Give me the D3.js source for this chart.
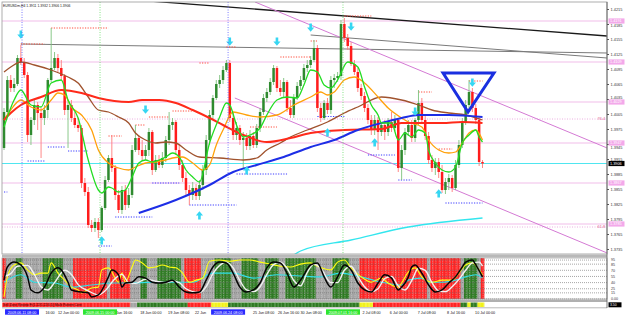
<!DOCTYPE html>
<html><head><meta charset="utf-8">
<script src="https://cdn.jsdelivr.net/npm/d3@7"></script>
<style>body{margin:0;background:#fff}svg{display:block}text{font-family:"Liberation Sans",Arial,sans-serif}</style>
</head><body>
<svg id="c" width="625" height="316"></svg>
<script>
// ---------------- DATA ----------------
const symbolTitle = "EURUSDm,H4  1.3911 1.3932 1.3906 1.3906";
const firstOpen = 1.3937;
const closes = [1.4009,1.4073,1.4057,1.4065,1.4117,1.4107,1.4083,1.3963,1.3993,1.4023,
1.4007,1.3997,1.4013,1.4073,1.4097,1.4117,1.4097,1.4081,1.4013,1.4023,
1.3997,1.3983,1.3977,1.3867,1.3849,1.3783,1.3777,1.3789,1.3773,1.3817,
1.3873,1.3917,1.3897,1.3843,1.3813,1.3853,1.3823,1.3843,1.3933,1.3957,
1.3933,1.3921,1.3933,1.3969,1.3893,1.3913,1.3903,1.3917,1.3953,1.3983,
1.3989,1.3933,1.3903,1.3877,1.3853,1.3843,1.3857,1.3841,1.3863,1.3893,
1.3953,1.4003,1.4037,1.4065,1.4073,1.4093,1.4107,1.3997,1.3963,1.3977,
1.3953,1.3957,1.3941,1.3961,1.3943,1.3977,1.4009,1.4037,1.4049,1.4069,
1.4097,1.4057,1.4049,1.4069,1.4017,1.4003,1.4037,1.4061,1.4073,1.4097,
1.4103,1.4113,1.4137,1.4017,1.3997,1.4027,1.4013,1.4073,1.4077,1.4081,
1.4185,1.4157,1.4141,1.4105,1.4089,1.4057,1.4041,1.4017,1.3993,1.3973,
1.3993,1.3969,1.3983,1.3969,1.3989,1.3977,1.3993,1.3897,1.3933,1.3969,
1.3983,1.3957,1.3993,1.4027,1.3993,1.3961,1.3913,1.3897,1.3909,1.3889,
1.3853,1.3869,1.3877,1.3857,1.3903,1.3943,1.3989,1.4023,1.4049,1.4017,
1.3993,1.3909,1.3906];
const highs = [1.4017,1.4081,1.4083,1.4077,1.4123,1.4143,1.4117,1.4089,1.3999,1.4033,
1.4029,1.4017,1.4023,1.4077,1.4177,1.4129,1.4125,1.4113,1.4085,1.4033,
1.4033,1.4009,1.3997,1.3983,1.3877,1.3859,1.3793,1.3797,1.3797,1.3821,
1.3881,1.3923,1.3963,1.3903,1.3853,1.3861,1.3863,1.3857,1.3943,1.3983,
1.3963,1.3953,1.3943,1.3977,1.3973,1.3923,1.3923,1.3929,1.3961,1.4009,
1.3997,1.3993,1.3943,1.3913,1.3889,1.3863,1.3869,1.3865,1.3873,1.3903,
1.3963,1.4013,1.4043,1.4073,1.4083,1.4101,1.4113,1.4113,1.4009,1.3989,
1.3983,1.3969,1.3967,1.3973,1.3969,1.3985,1.4017,1.4045,1.4057,1.4077,
1.4103,1.4101,1.4073,1.4077,1.4073,1.4033,1.4045,1.4069,1.4081,1.4105,
1.4113,1.4121,1.4153,1.4143,1.4027,1.4033,1.4037,1.4081,1.4085,1.4089,
1.4193,1.4197,1.4165,1.4149,1.4113,1.4097,1.4065,1.4049,1.4025,1.4003,
1.4003,1.3999,1.3989,1.3993,1.3997,1.4009,1.4003,1.3997,1.3943,1.3977,
1.3993,1.3993,1.3997,1.4053,1.4037,1.4001,1.3969,1.3923,1.3917,1.3917,
1.3903,1.3877,1.3885,1.3883,1.3913,1.3953,1.3997,1.4033,1.4073,1.4057,
1.4025,1.4001,1.3913];
const lows = [1.3933,1.4005,1.4049,1.4049,1.4061,1.4103,1.4077,1.3949,1.3943,1.3983,
1.3973,1.3917,1.3983,1.3997,1.4069,1.4093,1.4089,1.4073,1.4003,1.3937,
1.3989,1.3977,1.3969,1.3857,1.3841,1.3777,1.3769,1.3769,1.3757,1.3769,
1.3813,1.3869,1.3889,1.3833,1.3807,1.3805,1.3813,1.3817,1.3837,1.3929,
1.3923,1.3913,1.3913,1.3921,1.3883,1.3889,1.3897,1.3897,1.3909,1.3943,
1.3973,1.3923,1.3893,1.3869,1.3843,1.3823,1.3833,1.3833,1.3833,1.3853,
1.3883,1.3943,1.3993,1.4033,1.4057,1.4065,1.4089,1.3989,1.3953,1.3953,
1.3943,1.3897,1.3933,1.3933,1.3937,1.3937,1.3969,1.4003,1.4029,1.4043,
1.4063,1.4049,1.4041,1.4037,1.4009,1.3997,1.3997,1.4033,1.4053,1.4069,
1.4089,1.4097,1.4109,1.4009,1.3989,1.3993,1.4005,1.4005,1.4057,1.4069,
1.4073,1.4149,1.4133,1.4101,1.4083,1.4049,1.4033,1.4009,1.3985,1.3963,
1.3963,1.3933,1.3961,1.3953,1.3961,1.3969,1.3971,1.3889,1.3873,1.3923,
1.3961,1.3949,1.3949,1.3983,1.3985,1.3953,1.3905,1.3889,1.3883,1.3877,
1.3847,1.3845,1.3853,1.3849,1.3853,1.3897,1.3937,1.3983,1.4013,1.4009,
1.3985,1.3901,1.3897];

// moving averages as [bar index, price]
const greenMA = [[0,1.3979],[3,1.4033],[5,1.4053],[8,1.4023],[11,1.4019],[14,1.4067],[17,1.4073],[19,1.4033],[22,1.3997],[25,1.3913],[28,1.3853],[29,1.3847],[31,1.3859],[32,1.3857],[34,1.3849],[36,1.3853],[38,1.3879],[40,1.3907],[42,1.3913],[44,1.3909],[46,1.3913],[48,1.3919],[50,1.3927],[52,1.3919],[54,1.3893],[56,1.3879],[58,1.3869],[61,1.3947],[64,1.3999],[66,1.4027],[67,1.4023],[69,1.3983],[71,1.3959],[73,1.3963],[76,1.3977],[78,1.4003],[81,1.4033],[84,1.4039],[87,1.4037],[89,1.4063],[91,1.4093],[93,1.4089],[95,1.4063],[97,1.4057],[99,1.4073],[102,1.4109],[105,1.4099],[107,1.4059],[109,1.4023],[111,1.4003],[112,1.3987],[115,1.3987],[117,1.3953],[119,1.3967],[121,1.3959],[123,1.3973],[125,1.3967],[126,1.3933],[128,1.3907],[130,1.3893],[132,1.3889],[134,1.3899],[136,1.3947],[138,1.3963],[140,1.3973],[141,1.3959],[142,1.3949]];
const orangeMA = [[0,1.3993],[2,1.4013],[5,1.4033],[8,1.4019],[11,1.4013],[14,1.4033],[16,1.4047],[18,1.4043],[20,1.4019],[23,1.4003],[26,1.3973],[28,1.3933],[31,1.3907],[34,1.3897],[37,1.3893],[39,1.3899],[42,1.3907],[45,1.3909],[48,1.3913],[50,1.3917],[53,1.3919],[56,1.3907],[59,1.3893],[61,1.3903],[63,1.3943],[65,1.3973],[68,1.4009],[72,1.4003],[76,1.3999],[81,1.4003],[86,1.4023],[91,1.4039],[94,1.4049],[96,1.4043],[98,1.4049],[101,1.4073],[104,1.4079],[107,1.4067],[111,1.4039],[114,1.4017],[118,1.3997],[120,1.3989],[124,1.3979],[126,1.3953],[129,1.3933],[132,1.3927],[134,1.3929],[136,1.3947],[138,1.3967],[140,1.3973],[142,1.3953]];
const brownMA = [[0,1.4089],[2,1.4099],[5,1.4109],[9,1.4103],[14,1.4093],[19,1.4079],[22,1.4067],[25,1.4039],[28,1.4013],[31,1.4009],[34,1.3999],[37,1.3987],[39,1.3967],[42,1.3953],[45,1.3947],[48,1.3949],[51,1.3947],[54,1.3933],[58,1.3919],[64,1.3917],[71,1.3913],[75,1.3917],[78,1.3933],[82,1.3947],[85,1.3959],[90,1.3973],[96,1.3989],[101,1.4007],[105,1.4019],[112,1.4039],[118,1.4033],[123,1.4023],[127,1.4013],[132,1.4007],[137,1.4003],[142,1.3993]];
const redMA = [[0,1.3993],[2,1.4007],[5,1.4023],[11,1.4039],[17,1.4053],[23,1.4047],[28,1.4037],[37,1.4029],[41,1.4033],[46,1.4033],[51,1.4027],[56,1.4013],[61,1.3997],[65,1.3983],[71,1.3963],[78,1.3949],[85,1.3957],[91,1.3967],[101,1.3973],[112,1.3975],[118,1.3987],[124,1.3987],[130,1.3987],[136,1.3989],[142,1.3987]];
const blueMA = [[40,1.3807],[51,1.3833],[61,1.3863],[68,1.3889],[75,1.3903],[83,1.3919],[91,1.3939],[98,1.3953],[105,1.3973],[112,1.3987],[118,1.3997],[123,1.4003],[132,1.4003],[142,1.3999]];
const cyanMA = [[86,1.3723],[88,1.3731],[103,1.3753],[120,1.3779],[142,1.3797]];

// trend lines [bar index, price]
const blackTrend = [[43,1.4231],[179,1.4161]];
const grayTrendA = [[91,1.4163],[179,1.4117]];
const grayTrendB = [[5,1.4145],[179,1.4127]];
const channelUpper = [[74.5,1.4229],[179,1.3937]];
const channelLower = [[68.5,1.4037],[179,1.3727]];
const triangle = [[130.3,1.4087],[145.4,1.4087],[137.7,1.4009]];

// horizontal levels
const pinkLevels = [1.4191,1.4109,1.4029,1.3947,1.3867,1.3785];
const fiboPrices = [1.3995,1.3779];
const fiboLabels = ["76.4","61.8"];
const bidPrice = 1.3906;
const priceTicks = [1.4215,1.4185,1.4155,1.4125,1.4095,1.4065,1.4035,1.4005,1.3975,1.3945,1.3915,1.3885,1.3855,1.3825,1.3795,1.3765,1.3735];

// fractal levels [start idx, end idx, price]
const fractalHighs = [[5,12,1.4145],[14,31,1.4177],[31,35,1.3961],[39,42,1.3983],[43,49,1.3999],[50,56,1.4011],[58,61,1.4107],[66,69,1.4139],[73,81,1.3979],[82,91,1.4119],[91,93,1.4151],[101,109,1.4201],[123,127,1.4049],[129,133,1.3935],[138,142,1.4071]];
const fractalLows = [[0,1,1.3849],[7,12,1.3911],[13,18,1.3939],[19,25,1.3931],[28,32,1.3741],[33,44,1.3799],[44,52,1.3867],[55,69,1.3823],[69,84,1.3885],[93,101,1.4000],[108,116,1.3923],[117,121,1.3873],[131,142,1.3827]];
const arrowsDown = [[5,1.4163],[42,1.4013],[67,1.4149],[81,1.4149],[91,1.4177],[103,1.4179],[122,1.4009],[139,1.4067]];
const arrowsUp = [[29,1.3753],[58,1.3803],[72,1.3893],[96,1.3969],[110,1.3949],[129,1.3847]];

// time markers & labels (only the visible part of partly covered labels)
const markerIdx = [5.35,28.5,66.5,100.6];
const markerText = ["2009.06.11 08:00","2009.06.15 00:00","2009.06.24 08:00","2009.07.01 16:00"];
const markerKind = ["blue","green","blue","green"];
const timeLabelIdx = [12.3,16,33.3,40.4,48.7,56.7,73.9,81.3,88,106.4,114.5,122.8,131.5,139.8];
const timeLabels = ["16:00","12 Jun 00:00","Jun 16:00","18 Jun 00:00","19 Jun 08:00","22 Jun","25 Jun 08:00","26 Jun 16:00","30 Jun 08:00","2 Jul 08:00","6 Jul 00:00","7 Jul 08:00","8 Jul 16:00","10 Jul 00:00"];

// indicator window
const stochMain = [[0,46],[1,78],[3,90],[5,83],[7,54],[8,22],[10,15],[12,29],[14,63],[16,76],[17,71],[19,41],[20,22],[23,17],[25,15],[26,5],[28,10],[31,54],[32,71],[34,59],[35,29],[36,39],[38,41],[40,54],[42,51],[44,41],[46,39],[48,41],[50,46],[52,29],[54,17],[56,15],[58,17],[60,46],[62,78],[64,90],[66,88],[68,63],[70,29],[72,17],[74,22],[76,39],[78,76],[80,90],[82,88],[84,63],[86,29],[88,46],[91,83],[93,88],[95,54],[97,29],[99,54],[101,83],[103,71],[105,39],[107,22],[109,17],[111,39],[113,59],[115,51],[117,22],[118,29],[120,54],[121,78],[122,83],[124,63],[126,34],[128,17],[130,22],[132,39],[134,54],[136,78],[137,90],[139,95],[140,83],[142,54]];
const stochSignal = [[0,55],[2,62],[4,80],[7,82],[9,60],[11,30],[13,22],[15,40],[18,70],[20,60],[22,35],[25,20],[28,10],[30,20],[33,50],[35,60],[37,40],[39,38],[42,48],[44,45],[46,42],[48,40],[50,44],[52,40],[54,25],[56,18],[58,16],[60,30],[62,62],[64,82],[66,90],[68,76],[70,45],[72,22],[74,18],[76,30],[78,60],[80,84],[82,90],[84,75],[86,45],[88,32],[90,65],[92,85],[94,75],[97,40],[99,40],[101,70],[103,80],[105,55],[107,30],[109,18],[111,25],[113,50],[115,55],[117,32],[119,22],[121,45],[123,75],[125,70],[127,40],[129,20],[131,18],[133,30],[135,48],[137,70],[139,88],[141,90],[142,80]];
const rsiYellow = [[0,5],[1,54],[3,83],[5,88],[7,71],[9,59],[11,63],[13,63],[14,88],[16,63],[18,46],[20,29],[22,22],[23,15],[26,27],[28,29],[29,71],[31,76],[34,41],[35,63],[36,41],[38,78],[39,95],[41,88],[43,76],[45,78],[47,83],[49,78],[51,76],[53,63],[55,41],[57,46],[59,51],[61,92],[64,95],[67,92],[70,95],[73,95],[76,90],[79,85],[82,80],[85,78],[88,85],[91,88],[93,80],[97,71],[99,90],[101,95],[103,76],[106,54],[109,41],[112,51],[114,39],[117,29],[118,39],[120,66],[122,76],[124,54],[127,41],[130,46],[133,46],[135,63],[137,83],[139,88],[141,71],[142,59]];
const cyanInd = [[0,41],[5,59],[9,41],[15,39],[20,29],[26,34],[32,39],[38,39],[44,41],[50,41],[56,41],[62,63],[68,63],[74,51],[81,59],[88,56],[94,54],[100,63],[106,54],[112,41],[118,34],[120,46],[124,51],[126,41],[130,41],[134,46],[137,54],[140,59],[142,51]];
const indStateRuns = [["R",1],["N",3],["G",2],["N",6],["G",6],["N",3],["R",10],["N",1],["R",6],["N",3],["G",2],["N",3],["G",7],["N",1],["R",5],["N",4],["G",5],["N",3],["G",5],["N",2],["G",4],["N",2],["G",9],["N",5],["G",5],["N",3],["R",20],["N",1],["R",9],["N",1],["G",4],["N",1],["R",1]];
const stripRuns = [["R",38],["N",2],["G",15],["R",7],["Y",5],["G",39],["Y",4],["R",26],["G",2],["Y",1],["G",2],["Y",2]];
const indLevels = [95,85,70,55,40,25,15,0];
const indLevelLabels = ["95","85","70","55","40","25","15","0.00"];
const stripText = "Sell Zone   Review   Fi(1.22/1.22/0.5)  Ma/b   Pattern Core";

// ---------------- DRAW ----------------
const svg = d3.select("#c");
const nBars = closes.length;
const x = d3.scaleLinear().domain([0, nBars-1]).range([4, 482.5]);
const y = d3.scaleLinear().domain([1.3735, 1.4215]).range([249, 9]);
const yi = d3.scaleLinear().domain([0, 100]).range([299, 258]);
const step = x(1) - x(0);
const F = '"Liberation Sans",Arial,sans-serif';

svg.append("rect").attr("width",625).attr("height",316).attr("fill","#fff");
const defs = svg.append("defs");
defs.append("clipPath").attr("id","mainClip").append("rect").attr("x",2).attr("y",2).attr("width",605).attr("height",252);
defs.append("clipPath").attr("id","indClip").append("rect").attr("x",2).attr("y",258).attr("width",605).attr("height",41);

const main = svg.append("g").attr("clip-path","url(#mainClip)");

// horizontal levels
main.selectAll(".pl").data(pinkLevels).join("line")
  .attr("x1",2).attr("x2",607).attr("y1",d=>y(d)).attr("y2",d=>y(d))
  .attr("stroke","#f2bde9").attr("stroke-width",1.2);
main.selectAll(".fl").data(fiboPrices).join("line")
  .attr("x1",2).attr("x2",607).attr("y1",d=>y(d)).attr("y2",d=>y(d))
  .attr("stroke","#e79ad8").attr("stroke-width",0.8).attr("stroke-dasharray","1,1.5");
main.append("line").attr("x1",2).attr("x2",607).attr("y1",y(bidPrice)).attr("y2",y(bidPrice))
  .attr("stroke","#4fe6f0").attr("stroke-width",1);

// trend lines
const lineP = d3.line().x(d=>x(d[0])).y(d=>y(d[1]));
main.append("path").attr("d",lineP(grayTrendB)).attr("stroke","#7a7a7a").attr("stroke-width",1).attr("fill","none");
main.append("path").attr("d",lineP(grayTrendA)).attr("stroke","#7a7a7a").attr("stroke-width",1).attr("fill","none");
main.append("path").attr("d",lineP(blackTrend)).attr("stroke","#1a1a1a").attr("stroke-width",1.3).attr("fill","none");
main.append("path").attr("d",lineP(channelUpper)).attr("stroke","#d47ad4").attr("stroke-width",1).attr("fill","none");
main.append("path").attr("d",lineP(channelLower)).attr("stroke","#d47ad4").attr("stroke-width",1).attr("fill","none");

// vertical markers
svg.selectAll(".vm").data(markerIdx).join("line")
  .attr("x1",d=>x(d)).attr("x2",d=>x(d)).attr("y1",2).attr("y2",300)
  .attr("stroke",(d,i)=>markerKind[i]==="blue"?"#5a5aff":"#66dd66")
  .attr("stroke-width",0.8).attr("stroke-dasharray","1,1.5");

// fractal dotted levels
main.selectAll(".fh").data(fractalHighs).join("line")
  .attr("x1",d=>x(d[0])).attr("x2",d=>x(d[1])).attr("y1",d=>y(d[2])).attr("y2",d=>y(d[2]))
  .attr("stroke","#ff4a3a").attr("stroke-width",1).attr("stroke-dasharray","1.2,1.4");
main.selectAll(".flo").data(fractalLows).join("line")
  .attr("x1",d=>x(d[0])).attr("x2",d=>x(d[1])).attr("y1",d=>y(d[2])).attr("y2",d=>y(d[2]))
  .attr("stroke","#3a3aff").attr("stroke-width",1).attr("stroke-dasharray","1.2,1.4");

// candles
const bars = closes.map((c,i)=>({i, o: i===0?firstOpen:closes[i-1], c, h: highs[i], l: lows[i]}));
const cg = main.append("g");
cg.selectAll(".wk").data(bars).join("line")
  .attr("x1",d=>x(d.i)).attr("x2",d=>x(d.i)).attr("y1",d=>y(d.h)).attr("y2",d=>y(d.l))
  .attr("stroke",d=>d.c>=d.o?"#7dc27d":"#ff7a7a").attr("stroke-width",0.9);
cg.selectAll(".bd").data(bars).join("rect")
  .attr("x",d=>x(d.i)-1.25).attr("width",2.5)
  .attr("y",d=>y(Math.max(d.o,d.c))).attr("height",d=>Math.max(0.8,Math.abs(y(d.o)-y(d.c))))
  .attr("fill",d=>d.c>=d.o?"#2f8a2f":"#ff1c1c");

// moving averages
const curve = d3.line().x(d=>x(d[0])).y(d=>y(d[1])).curve(d3.curveMonotoneX);
const mas = [[cyanMA,"#33e6ee",1.3],[brownMA,"#a0522d",1.3],[orangeMA,"#ffa10a",1.3],[redMA,"#ff2a1a",2],[blueMA,"#1d2ee6",2],[greenMA,"#22dd22",1.3]];
mas.forEach(([d,col,w])=>main.append("path").attr("d",curve(d)).attr("fill","none").attr("stroke",col).attr("stroke-width",w));

// arrows
const arrowDown = (cx,cy)=>`M${cx-1.3},${cy-4.5}h2.6v4h2.3l-3.6,4.2l-3.6,-4.2h2.3z`;
const arrowUp = (cx,cy)=>`M${cx-1.3},${cy+4.5}h2.6v-4h2.3l-3.6,-4.2l-3.6,4.2h2.3z`;
main.selectAll(".ad").data(arrowsDown).join("path").attr("d",d=>arrowDown(x(d[0]),y(d[1]))).attr("fill","#36d6f2");
main.selectAll(".au").data(arrowsUp).join("path").attr("d",d=>arrowUp(x(d[0]),y(d[1]))).attr("fill","#36d6f2");

// triangle
main.append("path").attr("d", d3.line().x(d=>x(d[0])).y(d=>y(d[1]))(triangle)+"Z")
  .attr("fill","none").attr("stroke","#1a2fe0").attr("stroke-width",3).attr("stroke-linejoin","miter");

// fibo labels
main.selectAll(".ft").data(fiboPrices).join("text")
  .attr("x",605).attr("y",d=>y(d)+1.3).attr("text-anchor","end")
  .attr("font-size",3.8).attr("fill","#e05a8a").text((d,i)=>fiboLabels[i]);

// header
svg.append("text").attr("x",3).attr("y",6.5).attr("font-size",3.4).attr("fill","#111").text(symbolTitle);

// frame main
svg.append("rect").attr("x",2).attr("y",2).attr("width",605).attr("height",252).attr("fill","none").attr("stroke","#9a9a9a").attr("stroke-width",0.8);

// ---------- indicator window ----------
svg.append("rect").attr("x",2).attr("y",254.5).attr("width",605).attr("height",3).attr("fill","#b8b8b8");
const stateColor = {R:"#ff2323",G:"#2e7a22",N:"#a3a3a3",Y:"#f2f21a"};
function expand(runs){const out=[];runs.forEach(([s,n])=>{for(let k=0;k<n;k++)out.push(s);});return out;}
const indStates = expand(indStateRuns);
const ind = svg.append("g");
ind.selectAll(".col").data(indStates).join("rect")
  .attr("x",(d,i)=>x(i)-step/2).attr("width",step+0.2).attr("y",258).attr("height",41)
  .attr("fill",d=>stateColor[d]);
ind.selectAll(".sep").data(indStates).join("line")
  .attr("x1",(d,i)=>x(i)+0.6).attr("x2",(d,i)=>x(i)+0.6).attr("y1",258).attr("y2",299)
  .attr("stroke","#e4e4e4").attr("stroke-opacity",0.55).attr("stroke-width",0.8).attr("stroke-dasharray","1.5,0.8");
ind.selectAll(".lvl").data(indLevels).join("line")
  .attr("x1",2).attr("x2",607).attr("y1",d=>yi(d)).attr("y2",d=>yi(d))
  .attr("stroke","#6a6a6a").attr("stroke-width",0.6).attr("stroke-dasharray","1,1");
const ic = svg.append("g").attr("clip-path","url(#indClip)");
const iline = d3.line().x(d=>x(d[0])).y(d=>yi(d[1])).curve(d3.curveMonotoneX);
ic.append("path").attr("d",iline(cyanInd)).attr("fill","none").attr("stroke","#2fe0e8").attr("stroke-width",1.1);
ic.append("path").attr("d",iline(rsiYellow)).attr("fill","none").attr("stroke","#ffff10").attr("stroke-width",1.1);
ic.append("path").attr("d",iline(stochSignal)).attr("fill","none").attr("stroke","#f2f2f2").attr("stroke-width",1.4);
ic.append("path").attr("d",iline(stochMain)).attr("fill","none").attr("stroke","#050505").attr("stroke-width",1.5);
svg.append("rect").attr("x",2).attr("y",258).attr("width",605).attr("height",41).attr("fill","none").attr("stroke","#8a8a8a").attr("stroke-width",0.6);
svg.append("rect").attr("x",2).attr("y",299.5).attr("width",605).attr("height",2.5).attr("fill","#b0b0b0");

// strip
const stripStates = expand(stripRuns);
svg.selectAll(".st").data(stripStates).join("rect")
  .attr("x",(d,i)=>x(i)-step/2).attr("width",step+0.2).attr("y",302.5).attr("height",4.5)
  .attr("fill",d=>stateColor[d]);
svg.selectAll(".sts").data(stripStates).join("line")
  .attr("x1",(d,i)=>x(i)+1).attr("x2",(d,i)=>x(i)+1).attr("y1",302.5).attr("y2",307)
  .attr("stroke","#ffffff").attr("stroke-opacity",0.3).attr("stroke-width",0.6);
svg.append("text").attr("x",3).attr("y",306.3).attr("font-size",3.3).attr("fill","#3a0000").text(stripText);
svg.append("line").attr("x1",2).attr("x2",607).attr("y1",307.8).attr("y2",307.8).attr("stroke","#888").attr("stroke-width",0.6);

// right axis
svg.append("line").attr("x1",607).attr("x2",607).attr("y1",2).attr("y2",308).attr("stroke","#555").attr("stroke-width",0.8);
const boxCenters = pinkLevels.concat([bidPrice]).map(p=>y(p));
const ax = svg.append("g").attr("transform","translate(607,0)")
  .call(d3.axisRight(y).tickValues(priceTicks).tickSize(2).tickFormat(d3.format(".4f")));
ax.select(".domain").remove();
ax.selectAll("line").attr("stroke","#555");
ax.selectAll("text").attr("font-size",3.9).attr("fill","#333").attr("font-family",F).attr("x",3.5)
  .attr("y", d => {
    const ty = y(d);
    let off = 0;
    boxCenters.forEach(bc => {
      if (Math.abs(ty - bc) < 4.6) off = ty < bc ? (bc - 4.7) - ty : (bc + 4.7) - ty;
    });
    return off;
  });
// pink level labels
svg.selectAll(".plb").data(pinkLevels).join("rect")
  .attr("x",608.5).attr("y",d=>y(d)-2.6).attr("width",16).attr("height",5.2).attr("fill","#f3a9ea");
svg.selectAll(".plt").data(pinkLevels).join("text")
  .attr("x",610).attr("y",d=>y(d)+1.4).attr("font-size",3.8).attr("fill","#fff").text(d=>d.toFixed(4));
svg.append("rect").attr("x",608.5).attr("y",y(bidPrice)-2.6).attr("width",16).attr("height",5.2).attr("fill","#000");
svg.append("text").attr("x",610).attr("y",y(bidPrice)+1.4).attr("font-size",3.8).attr("fill","#fff").text(bidPrice.toFixed(4));
// indicator axis labels
svg.selectAll(".ilb").data(indLevels).join("text")
  .attr("x",611).attr("y",d=>yi(d)+1.4).attr("font-size",3.6).attr("fill","#333").text((d,i)=>indLevelLabels[i]);
svg.append("rect").attr("x",608.5).attr("y",302.3).attr("width",13).attr("height",5).attr("fill","#000");
svg.append("text").attr("x",610).attr("y",306).attr("font-size",3.4).attr("fill","#fff").text("3.50");

// time labels
svg.selectAll(".tl").data(timeLabelIdx).join("text")
  .attr("x",d=>x(d)).attr("y",313.5).attr("font-size",3.7).attr("fill","#111").text((d,i)=>timeLabels[i]);
const mg = svg.selectAll(".mb").data(markerIdx).join("g");
mg.append("rect").attr("x",d=>x(d)-17).attr("y",309.3).attr("width",34).attr("height",5.4)
  .attr("fill",(d,i)=>markerKind[i]==="blue"?"#2a2aff":"#2ee62e");
mg.append("text").attr("x",d=>x(d)).attr("y",313.5).attr("text-anchor","middle").attr("font-size",3.7)
  .attr("fill","#fff").text((d,i)=>markerText[i]);
</script>
</body></html>
